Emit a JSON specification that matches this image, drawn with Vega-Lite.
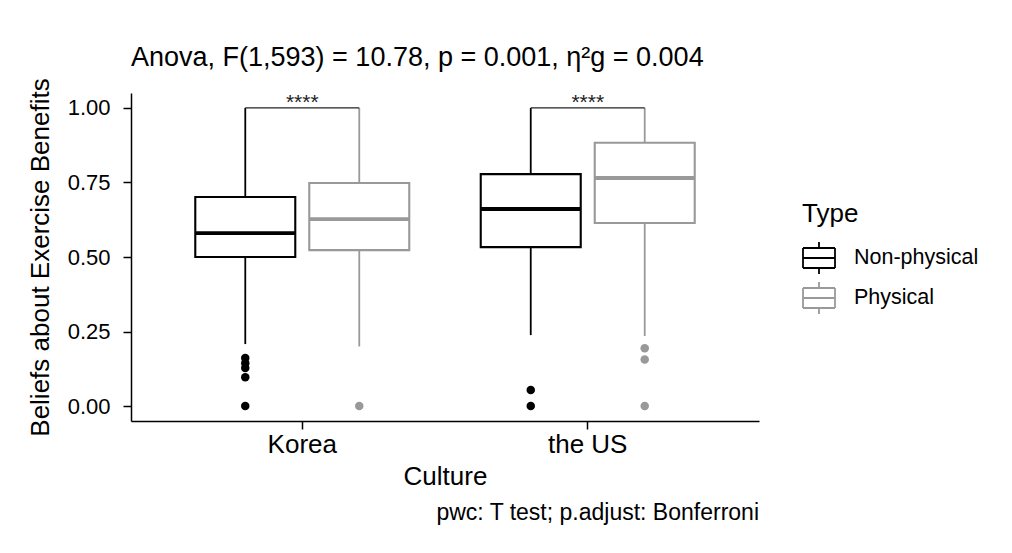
{
  "$schema": "https://vega.github.io/schema/vega-lite/v6.json",
  "background": "white",
  "padding": {"left": 27, "top": 43, "right": 5, "bottom": 5},
  "config": {
    "font": "Liberation Sans",
    "view": {"stroke": null},
    "axis": {
      "grid": false,
      "domainColor": "black",
      "domainWidth": 1.5,
      "tickColor": "black",
      "tickWidth": 1.5,
      "tickSize": 8,
      "labelColor": "black",
      "labelFontSize": 22,
      "labelFont": "Liberation Sans",
      "titleFontSize": 26,
      "titleFontWeight": "normal",
      "titleColor": "black",
      "titleFont": "Liberation Sans"
    }
  },
  "datasets": {
    "boxes": [
      {"Culture": "Korea", "Type": "Non-physical", "lower": 0.208, "q1": 0.5, "median": 0.58, "q3": 0.701, "upper": 1.0},
      {"Culture": "Korea", "Type": "Physical", "lower": 0.2, "q1": 0.523, "median": 0.627, "q3": 0.748, "upper": 1.0},
      {"Culture": "the US", "Type": "Non-physical", "lower": 0.238, "q1": 0.533, "median": 0.661, "q3": 0.778, "upper": 1.0},
      {"Culture": "the US", "Type": "Physical", "lower": 0.235, "q1": 0.614, "median": 0.765, "q3": 0.883, "upper": 1.0}
    ],
    "outliers": [
      {"Culture": "Korea", "Type": "Non-physical", "value": 0.161},
      {"Culture": "Korea", "Type": "Non-physical", "value": 0.144},
      {"Culture": "Korea", "Type": "Non-physical", "value": 0.128},
      {"Culture": "Korea", "Type": "Non-physical", "value": 0.097},
      {"Culture": "Korea", "Type": "Non-physical", "value": 0.0},
      {"Culture": "Korea", "Type": "Physical", "value": 0.0},
      {"Culture": "the US", "Type": "Non-physical", "value": 0.054},
      {"Culture": "the US", "Type": "Non-physical", "value": 0.0},
      {"Culture": "the US", "Type": "Physical", "value": 0.194},
      {"Culture": "the US", "Type": "Physical", "value": 0.156},
      {"Culture": "the US", "Type": "Physical", "value": 0.0}
    ],
    "bracket": [
      {"Culture": "Korea", "Type": "Non-physical", "y": 1.0},
      {"Culture": "Korea", "Type": "Physical", "y": 1.0},
      {"Culture": "the US", "Type": "Non-physical", "y": 1.0},
      {"Culture": "the US", "Type": "Physical", "y": 1.0}
    ],
    "labels": [
      {"Culture": "Korea", "y": 1.0, "label": "****"},
      {"Culture": "the US", "y": 1.0, "label": "****"}
    ]
  },
  "title": {
    "text": "pwc: T test; p.adjust: Bonferroni",
    "orient": "bottom",
    "anchor": "end",
    "fontSize": 23,
    "fontWeight": "normal",
    "color": "black",
    "font": "Liberation Sans",
    "dx": -220,
    "offset": 13
  },
  "hconcat": [
    {
      "width": 628,
      "height": 328,
      "title": {
        "text": "Anova, F(1,593) = 10.78, p = 0.001, η²g = 0.004",
        "anchor": "start",
        "frame": "group",
        "fontSize": 27,
        "fontWeight": "normal",
        "color": "black",
        "font": "Liberation Sans",
        "offset": 6
      },
      "encoding": {
        "x": {
          "field": "Culture",
          "type": "nominal",
          "scale": {"domain": ["Korea", "the US"], "paddingInner": 0, "paddingOuter": 0.1},
          "axis": {"labelAngle": 0, "title": "Culture", "labelFontSize": 26, "labelPadding": 2, "titlePadding": 6}
        }
      },
      "layer": [
        {
          "data": {"name": "boxes"},
          "mark": {"type": "rule", "strokeWidth": 1.8},
          "encoding": {
            "xOffset": {"field": "Type", "type": "nominal", "scale": {"domain": ["Non-physical", "Physical"], "paddingInner": 0.1228, "paddingOuter": 0.3135}},
            "y": {"field": "lower", "type": "quantitative", "title": "Beliefs about Exercise Benefits", "scale": {"domain": [-0.05, 1.05], "nice": false, "zero": false}, "axis": {"values": [0, 0.25, 0.5, 0.75, 1], "format": ".2f", "labelPadding": 13, "titlePadding": 14}},
            "y2": {"field": "q1"},
            "color": {"field": "Type", "type": "nominal", "scale": {"domain": ["Non-physical", "Physical"], "range": ["#000000", "#999999"]},
              "legend": {
                "title": "Type",
                "orient": "none",
                "legendX": 671,
                "legendY": 108,
                "padding": 0,
                "titleFontSize": 26,
                "titleFontWeight": "normal",
                "titleColor": "black",
                "titleFont": "Liberation Sans",
                "titlePadding": 14,
                "labelFontSize": 21.5,
                "labelColor": "black",
                "labelFont": "Liberation Sans",
                "labelOffset": 18,
                "rowPadding": 0,
                "symbolType": "M-1,-0.625H1H-1M-1,0.625H1H-1M-1,-0.625V0.625V-0.625M1,-0.625V0.625V-0.625M-1,0H1H-1M0,-0.625V-1V-0.625M0,0.625V1V0.625",
                "symbolSize": 1024,
                "symbolStrokeWidth": 1.8,
                "symbolFillColor": "white",
                "symbolOpacity": 1
              }
            }
          }
        },
        {
          "data": {"name": "boxes"},
          "mark": {"type": "rule", "strokeWidth": 1.8},
          "encoding": {
            "xOffset": {"field": "Type", "type": "nominal"},
            "y": {"field": "q3", "type": "quantitative", "title": "Beliefs about Exercise Benefits"},
            "y2": {"field": "upper"},
            "color": {"field": "Type", "type": "nominal"}
          }
        },
        {
          "data": {"name": "boxes"},
          "mark": {"type": "bar", "filled": false, "fill": "white", "strokeWidth": 2.1},
          "encoding": {
            "xOffset": {"field": "Type", "type": "nominal"},
            "y": {"field": "q1", "type": "quantitative", "title": "Beliefs about Exercise Benefits"},
            "y2": {"field": "q3"},
            "color": {"field": "Type", "type": "nominal"}
          }
        },
        {
          "data": {"name": "boxes"},
          "mark": {"type": "tick", "size": 100, "thickness": 3.8, "opacity": 1},
          "encoding": {
            "xOffset": {"field": "Type", "type": "nominal"},
            "y": {"field": "median", "type": "quantitative", "title": "Beliefs about Exercise Benefits"},
            "fill": {"field": "Type", "type": "nominal", "scale": {"domain": ["Non-physical", "Physical"], "range": ["#000000", "#999999"]}, "legend": null}
          }
        },
        {
          "data": {"name": "outliers"},
          "mark": {"type": "point", "filled": true, "size": 72, "opacity": 1, "shape": "circle"},
          "encoding": {
            "xOffset": {"field": "Type", "type": "nominal"},
            "y": {"field": "value", "type": "quantitative", "title": "Beliefs about Exercise Benefits"},
            "fill": {"field": "Type", "type": "nominal", "legend": null}
          }
        },
        {
          "data": {"name": "bracket"},
          "mark": {"type": "line", "color": "#222222", "strokeWidth": 1.3},
          "encoding": {
            "xOffset": {"field": "Type", "type": "nominal"},
            "y": {"field": "y", "type": "quantitative", "title": "Beliefs about Exercise Benefits"},
            "detail": {"field": "Culture"}
          }
        },
        {
          "data": {"name": "labels"},
          "mark": {"type": "text", "fontSize": 21, "baseline": "alphabetic", "dy": 1, "color": "#222222", "font": "Liberation Sans"},
          "encoding": {
            "y": {"field": "y", "type": "quantitative", "title": "Beliefs about Exercise Benefits"},
            "text": {"field": "label"}
          }
        }
      ]
    }
  ]
}
